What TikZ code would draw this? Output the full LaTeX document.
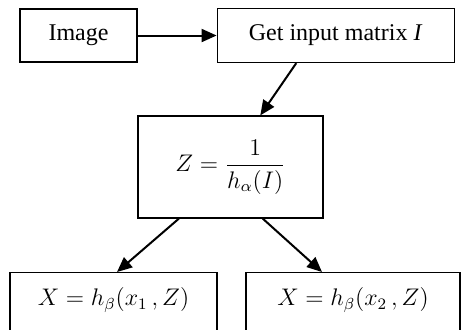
\documentclass[tikz,border=0pt]{standalone}
\usepackage{amsmath}
\usepackage{fontspec}
\setmainfont{Liberation Serif}
\usepackage{tikz}
\usetikzlibrary{arrows.meta,positioning}

\begin{document}
\begin{tikzpicture}[box/.style={draw, line width=0.6pt, inner sep=0pt, font=\fontsize{12}{14.4}\selectfont}, flow/.style={-{Triangle[length=7.5pt, width=6.5pt]}, line width=1pt}]
	\clip (0,0) rectangle (230.5pt,-164.5pt);

	\node[box, minimum width=58.5pt, minimum height=26.5pt] (img) at (39.25pt,-17.75pt) {Image};
	\node[box, right=39.5pt of img, minimum width=118.5pt, minimum height=27pt] (inmat) {Get input matrix \textit{I}};

	\node[box, minimum width=92.5pt, minimum height=51pt] (zval) at (115.25pt,-83.5pt) {$Z=\dfrac{1}{h_\alpha(I)}$};

	\node[box, anchor=north, minimum width=103.5pt, text height=16.5pt, text depth=20pt] (xone) at (56.75pt,-136pt) {$X=h_\beta(x_1\,, Z)$};
	\node[box, anchor=north, minimum width=107pt, text height=16.5pt, text depth=20pt] (xtwo) at (176.5pt,-136pt) {$X=h_\beta(x_2\,, Z)$};

	\draw[flow] (img.east) -- (img.east -| inmat.west);
	\draw[flow] (inmat.215.8) -- (zval.60);
	\draw[flow] (zval.225) -- ([xshift=1.75pt]xone.north);
	\draw[flow] (zval.302.5) -- ([xshift=-15.5pt]xtwo.north);
\end{tikzpicture}
\end{document}
